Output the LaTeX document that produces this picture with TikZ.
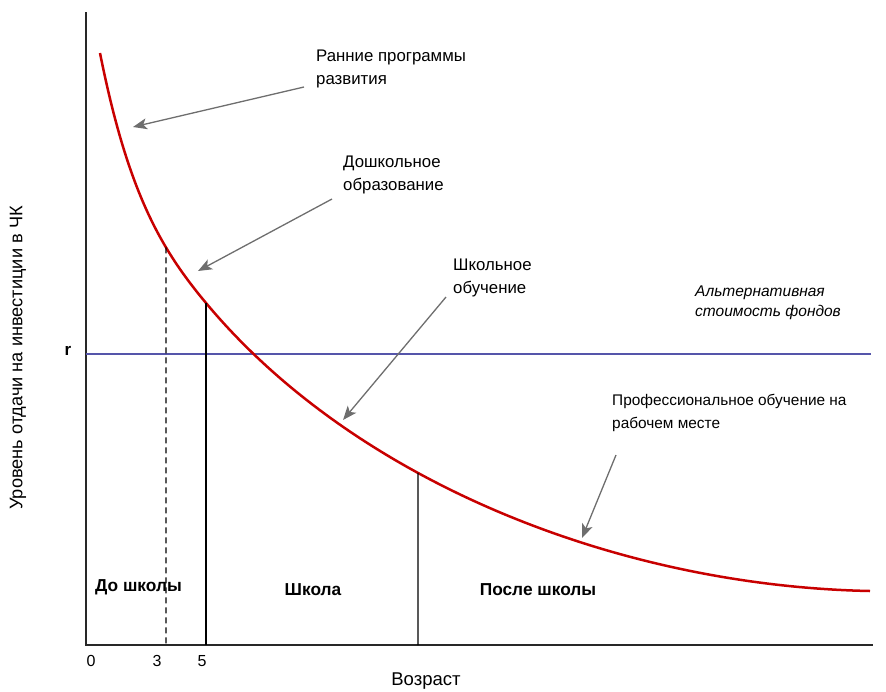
\documentclass[tikz,border=0pt]{standalone}
\usepackage{fontspec}
\setmainfont{Liberation Sans}
\usetikzlibrary{arrows.meta,intersections}
\definecolor{curvered}{RGB}{200,0,0}
\definecolor{rblue}{RGB}{85,85,170}
\definecolor{arrgray}{RGB}{110,110,110}
\definecolor{axisgray}{RGB}{40,40,40}
\begin{document}
\begin{tikzpicture}[x=1pt,y=-1pt,
  lbl/.style={anchor=west,align=left,inner sep=0pt,font=\fontsize{16.8}{23}\selectfont},
  itlbl/.style={anchor=west,align=left,inner sep=0pt,font=\fontsize{15.5}{20}\selectfont\itshape},
  zone/.style={inner sep=0pt,font=\fontsize{17.3}{19}\selectfont\bfseries},
  tick/.style={inner sep=0pt,font=\fontsize{16}{19}\selectfont},
  pointer/.style={draw=arrgray,line width=1.3pt,-{Stealth[length=14pt,width=11pt,inset=3.5pt]}},
  axis/.style={draw=axisgray,line width=1.4pt},
  divider/.style={draw=black,line width=1.2pt}]
\useasboundingbox (0,0) rectangle (886,691);
% axes
\coordinate (O) at (86,645);
\coordinate (ytop) at (86,12);
\coordinate (xend) at (873,645);
\draw[axis] (ytop) -- (O) -- (xend);
% r line
\coordinate (rl) at (86,354);
\coordinate (rr) at (871,354);
\draw[draw=rblue,line width=1.6pt] (rl) -- (rr);
\node[inner sep=0pt,font=\fontsize{17}{19}\selectfont\bfseries] (r) at (68,351) {r};
% curve
\coordinate (cstart) at (100,53);
\coordinate (cmid) at (206,303);
\coordinate (cend) at (870,591);
\draw[curvered,line width=2.5pt,name path=curve] (cstart) .. controls (128,193) and (161,249) .. (cmid)
  .. controls (356,483) and (620,586) .. (cend);
% dividers
\coordinate (c3b) at (166,645);
\coordinate (c5b) at (206,645);
\coordinate (csb) at (418,645);
\path[name path=v3] (c3b) -- ++(0,-640);
\path[name path=vs] (csb) -- ++(0,-640);
\path[name intersections={of=curve and v3,by=c3}];
\path[name intersections={of=curve and vs,by=cs}];
\draw[divider,dash pattern=on 6pt off 4pt] (c3) -- (c3b);
\draw[divider] (cmid) -- (c5b);
\draw[divider] (cs) -- (csb);
% labels
\node[lbl] (early) at (316,68.5) {Ранние программы\\развития};
\node[lbl] (pre) at (343,175) {Дошкольное\\образование};
\node[lbl] (school) at (453,277.5) {Школьное\\обучение};
\node[itlbl] (alt) at (695,303) {Альтернативная\\стоимость фондов};
\node[lbl,font=\fontsize{15.4}{23}\selectfont] (prof) at (612,413) {Профессиональное обучение на\\рабочем месте};
% pointers
\coordinate (a1s) at (304,87);
\coordinate (a1e) at (133,127);
\coordinate (a2s) at (332,199);
\coordinate (a2e) at (198,271);
\coordinate (a3s) at (446,297);
\coordinate (a3e) at (343,420);
\coordinate (a4s) at (616,455);
\coordinate (a4e) at (582,538);
\draw[pointer] (a1s) -- (a1e);
\draw[pointer] (a2s) -- (a2e);
\draw[pointer] (a3s) -- (a3e);
\draw[pointer] (a4s) -- (a4e);
% zones
\node[zone] (z1) at (138.5,587) {До школы};
\node[zone] (z2) at (313,590) {Школа};
\node[zone] (z3) at (538,590) {После школы};
% ticks
\node[tick] (t0) at (91,661) {0};
\node[tick] (t3) at (157,661) {3};
\node[tick] (t5) at (202,661) {5};
\node[tick,font=\fontsize{18.5}{20}\selectfont] (xl) at (426,681) {Возраст};
\node[tick,rotate=90,font=\fontsize{18.2}{20}\selectfont] (yl) at (18,358) {Уровень отдачи на инвестиции в ЧК};
\end{tikzpicture}
\end{document}
